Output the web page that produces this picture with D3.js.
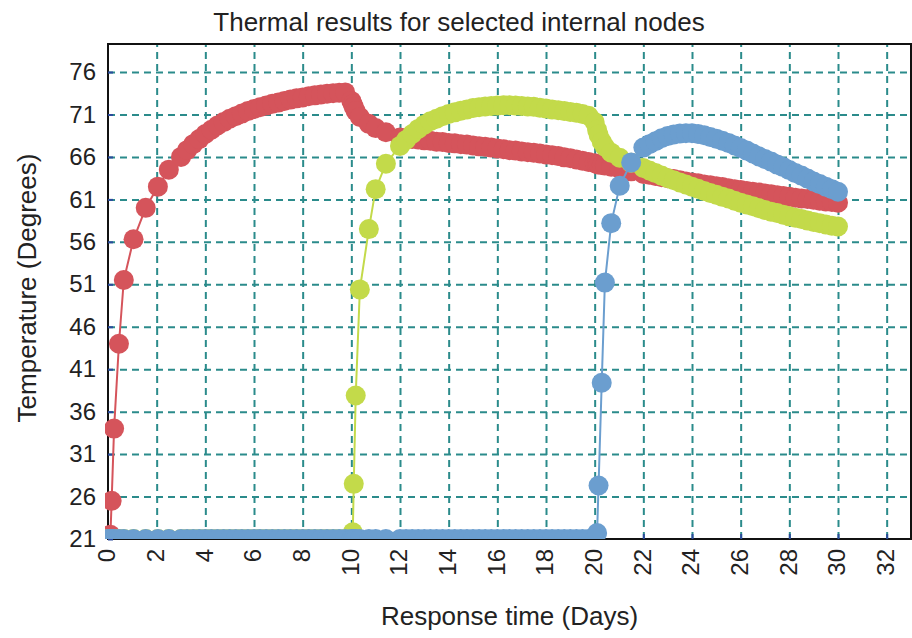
<!DOCTYPE html>
<meta charset="utf-8">
<script src="https://d3js.org/d3.v7.min.js"></script>
<style>
  body { margin: 0; background: #fff; }
  text { font-family: 'Liberation Sans', Arial, sans-serif; fill: #222; }
</style>
<body>
<div id="chart"></div>
<script>

// time axis shared by the three nodes (fine steps where a node switches on)
var days = [
  0, 0.1, 0.15, 0.25, 0.45, 0.65, 1.05, 1.55, 2.05, 2.5,
  3, 3.25, 3.5, 3.75, 4, 4.25, 4.5, 4.75, 5, 5.25, 5.5, 5.75, 6, 6.25, 6.5, 6.75, 7, 7.25, 7.5, 7.75, 8, 8.25, 8.5, 8.75, 9, 9.25, 9.5, 9.75,
  10, 10.06, 10.1, 10.18, 10.35, 10.72, 11, 11.42,
  12, 12.25, 12.5, 12.75, 13, 13.25, 13.5, 13.75, 14, 14.25, 14.5, 14.75, 15, 15.25, 15.5, 15.75, 16, 16.25, 16.5, 16.75, 17, 17.25, 17.5, 17.75, 18, 18.25, 18.5, 18.75, 19, 19.25, 19.5, 19.75,
  20, 20.1, 20.16, 20.29, 20.42, 20.68, 21.03, 21.5,
  22, 22.25, 22.5, 22.75, 23, 23.25, 23.5, 23.75, 24, 24.25, 24.5, 24.75, 25, 25.25, 25.5, 25.75, 26, 26.25, 26.5, 26.75, 27, 27.25, 27.5, 27.75, 28, 28.25, 28.5, 28.75, 29, 29.25, 29.5, 29.75, 30
];

var redTemp = [
  21, 21.5, 25.5, 34, 44, 51.5, 56.3, 60, 62.5, 64.5,
  66.0, 66.8, 67.5, 68.1, 68.7, 69.2, 69.7, 70.1, 70.5, 70.8, 71.1, 71.4, 71.65, 71.85, 72.05, 72.25, 72.4, 72.6, 72.75, 72.9, 73.0, 73.15, 73.25, 73.35, 73.45, 73.5, 73.55, 73.6,
  72.6, 72.2, 71.9, 71.4, 70.7, 69.9, 69.4, 68.9,
  68.3, 68.2, 68.1, 68.05, 67.95, 67.9, 67.8, 67.75, 67.65, 67.6, 67.5, 67.45, 67.35, 67.25, 67.2, 67.1, 67.0, 66.9, 66.8, 66.75, 66.65, 66.55, 66.5, 66.4, 66.3, 66.2, 66.1, 65.95, 65.85, 65.7, 65.55, 65.4,
  65.25, 65.15, 65.1, 65.05, 65.0, 64.85, 64.6, 64.3,
  64.0, 63.9, 63.75, 63.6, 63.5, 63.4, 63.25, 63.1, 63.0, 62.9, 62.75, 62.65, 62.55, 62.45, 62.3, 62.2, 62.1, 62.0, 61.9, 61.8, 61.7, 61.6, 61.5, 61.4, 61.3, 61.2, 61.1, 61.05, 60.95, 60.85, 60.75, 60.7, 60.6
];

var greenTemp = [
  21, 21, 21, 21, 21, 21, 21, 21, 21, 21,
  21, 21, 21, 21, 21, 21, 21, 21, 21, 21, 21, 21, 21, 21, 21, 21, 21, 21, 21, 21, 21, 21, 21, 21, 21, 21, 21, 21,
  21, 21.8, 27.5, 37.9, 50.4, 57.5, 62.2, 65.2,
  67.3, 68.0, 68.7, 69.3, 69.8, 70.2, 70.5, 70.8, 71.05, 71.25, 71.45, 71.6, 71.75, 71.85, 71.95, 72.0, 72.05, 72.1, 72.1, 72.05, 72.0, 71.95, 71.9, 71.8, 71.7, 71.6, 71.5, 71.4, 71.3, 71.2, 71.05, 70.85,
  70.1, 69.2, 68.6, 67.8, 67.2, 66.5, 65.9, 65.3,
  64.7, 64.4, 64.1, 63.8, 63.5, 63.25, 63.0, 62.75, 62.5, 62.25, 62.0, 61.75, 61.55, 61.3, 61.1, 60.85, 60.6, 60.4, 60.2, 59.95, 59.75, 59.55, 59.4, 59.2, 59.0, 58.85, 58.7, 58.5, 58.35, 58.2, 58.05, 57.9, 57.8
];

var blueTemp = [
  21, 21, 21, 21, 21, 21, 21, 21, 21, 21,
  21, 21, 21, 21, 21, 21, 21, 21, 21, 21, 21, 21, 21, 21, 21, 21, 21, 21, 21, 21, 21, 21, 21, 21, 21, 21, 21, 21,
  21, 21, 21, 21, 21, 21, 21, 21,
  21, 21, 21, 21, 21, 21, 21, 21, 21, 21, 21, 21, 21, 21, 21, 21, 21, 21, 21, 21, 21, 21, 21, 21, 21, 21, 21, 21, 21, 21, 21, 21,
  21, 21.7, 27.3, 39.4, 51.2, 58.2, 62.6, 65.35,
  67.1, 67.5, 67.85, 68.2, 68.45, 68.65, 68.75, 68.8, 68.8, 68.7, 68.55, 68.35, 68.15, 67.9, 67.65, 67.35, 67.05, 66.75, 66.4, 66.05, 65.75, 65.45, 65.1, 64.8, 64.45, 64.1, 63.8, 63.45, 63.1, 62.8, 62.5, 62.2, 61.9
];

var xTicks = [0, 2, 4, 6, 8, 10, 12, 14, 16, 18, 20, 22, 24, 26, 28, 30, 32];
var yTicks = [21, 26, 31, 36, 41, 46, 51, 56, 61, 66, 71, 76];

var series = [
  {name: "red", color: "#d5545b", values: redTemp},
  {name: "green", color: "#c3da4a", values: greenTemp},
  {name: "blue", color: "#6b9ecf", values: blueTemp}
];

// plot box
var margin = {top: 44, right: 1, bottom: 99, left: 108},
    width = 912 - margin.left - margin.right,
    height = 638 - margin.top - margin.bottom;

var svg = d3.select("#chart")
  .append("svg")
    .attr("width", 912)
    .attr("height", 638)
  .append("g")
    .attr("transform", "translate(" + margin.left + "," + margin.top + ")");

var x = d3.scaleLinear().domain([0, 33]).range([0, width]);
var y = d3.scaleLinear().domain([21, 79.3]).range([height, 0]);

var gridColor = "#2b8b8b";

// dashed grid
var xGrid = svg.append("g")
  .attr("transform", "translate(0," + height + ")")
  .call(d3.axisBottom(x).tickValues(xTicks.filter(function(d) { return d > 0; })).tickSize(-height).tickFormat(""));
var yGrid = svg.append("g")
  .call(d3.axisLeft(y).tickValues(yTicks.filter(function(d) { return d > 21; })).tickSize(-width).tickFormat(""));
[xGrid, yGrid].forEach(function(g) {
  g.select(".domain").remove();
  g.selectAll("line")
    .attr("stroke", gridColor)
    .attr("stroke-width", 2)
    .attr("stroke-dasharray", "7,5");
});

// frame
svg.append("rect")
  .attr("x", 0).attr("y", 0)
  .attr("width", width).attr("height", height)
  .attr("fill", "none")
  .attr("stroke", "#111")
  .attr("stroke-width", 2);

// small inner ticks
var xInner = svg.append("g")
  .attr("transform", "translate(0," + height + ")")
  .call(d3.axisBottom(x).tickValues(xTicks).tickSize(-5).tickFormat(""));
var yInner = svg.append("g")
  .call(d3.axisLeft(y).tickValues(yTicks).tickSize(-5).tickFormat(""));
[xInner, yInner].forEach(function(g) {
  g.select(".domain").remove();
  g.selectAll("line").attr("stroke", "#2c4a9c").attr("stroke-width", 2);
});

// tick labels
var xAxis = svg.append("g")
  .attr("transform", "translate(0," + height + ")")
  .call(d3.axisBottom(x).tickValues(xTicks).tickSize(0));
xAxis.select(".domain").remove();
xAxis.selectAll("text")
  .attr("transform", "rotate(-90)")
  .attr("x", -10)
  .attr("y", 0)
  .attr("dy", "0.28em")
  .style("text-anchor", "end")
  .style("font-size", "24px")
  .style("font-family", "'Liberation Sans', Arial, sans-serif")
  .attr("fill", "#222");

var yAxis = svg.append("g")
  .call(d3.axisLeft(y).tickValues(yTicks).tickSize(0).tickPadding(12));
yAxis.select(".domain").remove();
yAxis.selectAll("text")
  .style("font-size", "24px")
  .style("font-family", "'Liberation Sans', Arial, sans-serif")
  .attr("fill", "#222");

// clip a little beyond the frame
svg.append("clipPath").attr("id", "plotClip")
  .append("rect")
    .attr("x", -3).attr("y", -3)
    .attr("width", width + 6).attr("height", height + 3);

var line = d3.line()
  .x(function(d, i) { return x(days[i]); })
  .y(function(d) { return y(d); });

var plot = svg.append("g").attr("clip-path", "url(#plotClip)");

series.forEach(function(s) {
  plot.append("path")
    .datum(s.values)
    .attr("fill", "none")
    .attr("stroke", s.color)
    .attr("stroke-width", 2)
    .attr("d", line);

  plot.selectAll("circle." + s.name)
    .data(s.values)
    .enter()
    .append("circle")
      .attr("class", s.name)
      .attr("cx", function(d, i) { return x(days[i]); })
      .attr("cy", function(d) { return y(d); })
      .attr("r", 10)
      .attr("fill", s.color);
});

// title and axis titles
svg.append("text")
  .attr("x", 459 - margin.left)
  .attr("y", 31 - margin.top)
  .attr("text-anchor", "middle")
  .style("font-size", "26px")
  .text("Thermal results for selected internal nodes");

svg.append("text")
  .attr("x", width / 2)
  .attr("y", 625 - margin.top)
  .attr("text-anchor", "middle")
  .style("font-size", "26px")
  .text("Response time (Days)");

svg.append("text")
  .attr("transform", "translate(" + (36 - margin.left) + "," + (288 - margin.top) + ") rotate(-90)")
  .attr("text-anchor", "middle")
  .style("font-size", "26px")
  .text("Temperature (Degrees)");

</script>
</body>
